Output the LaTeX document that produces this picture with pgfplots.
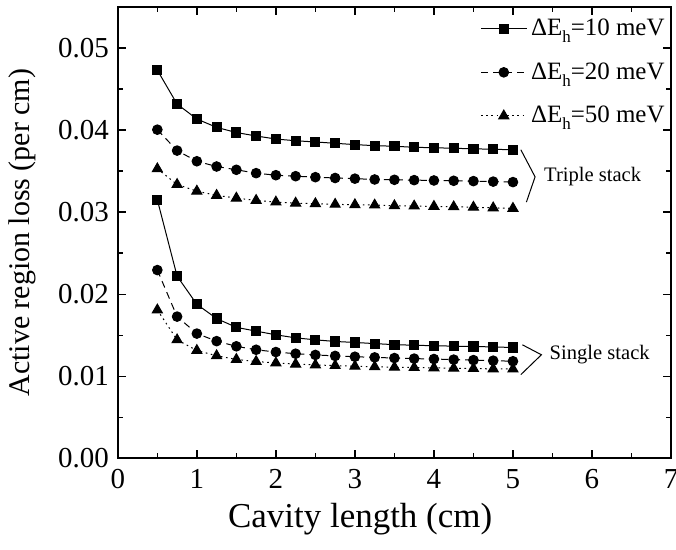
\documentclass[border=0pt]{standalone}
\usepackage{pgfplots}
\pgfplotsset{compat=1.18}
\usepackage{fontspec}
\setmainfont{Liberation Serif}
\newcommand{\sub}[1]{\raisebox{-3.5pt}{\fontsize{8.5}{9}\selectfont #1}}

\pgfplotstableread{
x t10 t20 t50 s10 s20 s50
0.50 0.04730 0.04005 0.03528 0.03150 0.02294 0.01808
0.75 0.04317 0.03750 0.03337 0.02220 0.01727 0.01444
1.00 0.04135 0.03620 0.03256 0.01877 0.01520 0.01314
1.25 0.04033 0.03556 0.03204 0.01703 0.01428 0.01250
1.50 0.03970 0.03516 0.03171 0.01596 0.01365 0.01205
1.75 0.03928 0.03475 0.03143 0.01550 0.01323 0.01180
2.00 0.03891 0.03450 0.03123 0.01505 0.01295 0.01162
2.25 0.03870 0.03438 0.03110 0.01468 0.01275 0.01148
2.50 0.03855 0.03426 0.03103 0.01444 0.01260 0.01138
2.75 0.03839 0.03416 0.03095 0.01424 0.01248 0.01130
3.00 0.03823 0.03408 0.03090 0.01412 0.01238 0.01122
3.25 0.03810 0.03398 0.03086 0.01398 0.01230 0.01116
3.50 0.03803 0.03394 0.03078 0.01385 0.01222 0.01110
3.75 0.03790 0.03390 0.03074 0.01378 0.01215 0.01106
4.00 0.03785 0.03386 0.03070 0.01372 0.01210 0.01102
4.25 0.03778 0.03382 0.03065 0.01367 0.01203 0.01098
4.50 0.03772 0.03378 0.03060 0.01362 0.01197 0.01094
4.75 0.03766 0.03372 0.03052 0.01358 0.01190 0.01090
5.00 0.03760 0.03366 0.03046 0.01350 0.01183 0.01088
}\data

\begin{document}
\begin{tikzpicture}
\begin{axis}[
  scale only axis,
  width=277pt, height=226pt,
  xmin=0, xmax=7, ymin=0, ymax=0.055,
  xtick={0,1,...,7},
  minor x tick num=1,
  ytick={0,0.01,0.02,0.03,0.04,0.05},
  minor y tick num=1,
  scaled y ticks=false,
  tick pos=both,
  tick align=inside,
  major tick length=4pt,
  minor tick length=2.5pt,
  every tick/.style={black, line width=0.7pt},
  axis line style={line width=1pt},
  ticklabel style={font=\fontsize{14.5}{16}\selectfont},
  yticklabel style={xshift=-1pt, /pgf/number format/.cd, fixed, fixed zerofill, precision=2, assume math mode=true},
  xticklabel style={yshift=-2pt, /pgf/number format/.cd, assume math mode=true},
  xlabel={Cavity length (cm)},
  ylabel={Active region loss (per cm)},
  xlabel style={font=\fontsize{17.5}{20}\selectfont, at={(axis description cs:0.438,-0.135)}, anchor=center},
  ylabel style={font=\fontsize{15}{17}\selectfont, at={(axis description cs:-0.172,0.5)}, anchor=center},
  legend style={at={(axis description cs:1,0.992)}, anchor=north east, draw=none, fill=none,
    font=\fontsize{12.5}{14}\selectfont, row sep=8pt, inner xsep=1pt, inner ysep=2pt},
  legend cell align=left,
  legend image code/.code={\draw[mark repeat=2,mark phase=2] plot coordinates {(0cm,0cm) (0.4cm,0cm) (0.8cm,0cm)};},
]
\addplot[black, line width=0.5pt, mark=square*, mark size=2.3pt, mark options={solid}] table[x=x, y=t10] {\data};
\addlegendentry{ΔE\sub{h}=10 meV}
\addplot[black, line width=0.5pt, dash pattern=on 3.5pt off 2.5pt, mark=*, mark size=2.4pt, mark options={solid}] table[x=x, y=t20] {\data};
\addlegendentry{ΔE\sub{h}=20 meV}
\addplot[black, line width=0.5pt, dash pattern=on 0.8pt off 1.8pt, mark=triangle*, mark size=2.9pt, mark options={solid}] table[x=x, y=t50] {\data};
\addlegendentry{ΔE\sub{h}=50 meV}
\addplot[black, line width=0.5pt, mark=square*, mark size=2.3pt, mark options={solid}, forget plot] table[x=x, y=s10] {\data};
\addplot[black, line width=0.5pt, dash pattern=on 3.5pt off 2.5pt, mark=*, mark size=2.4pt, mark options={solid}, forget plot] table[x=x, y=s20] {\data};
\addplot[black, line width=0.5pt, dash pattern=on 0.8pt off 1.8pt, mark=triangle*, mark size=2.9pt, mark options={solid}, forget plot] table[x=x, y=s50] {\data};
\draw[line width=0.5pt] (axis cs:5.10,0.0376) -- (axis cs:5.28,0.0343) -- (axis cs:5.17,0.03122);
\node[anchor=west, font=\fontsize{10.3}{12}\selectfont, inner sep=0pt] at (axis cs:5.39,0.0343) {Triple stack};
\draw[line width=0.5pt] (axis cs:5.12,0.01383) -- (axis cs:5.36,0.01262) -- (axis cs:5.10,0.0102);
\node[anchor=west, font=\fontsize{10.3}{12}\selectfont, inner sep=0pt] at (axis cs:5.46,0.01262) {Single stack};
\end{axis}
\pgfresetboundingbox
\path ([xshift=-59pt,yshift=-45.5pt]current axis.south west) rectangle ([xshift=2.5pt,yshift=3.5pt]current axis.north east);
\end{tikzpicture}
\end{document}
